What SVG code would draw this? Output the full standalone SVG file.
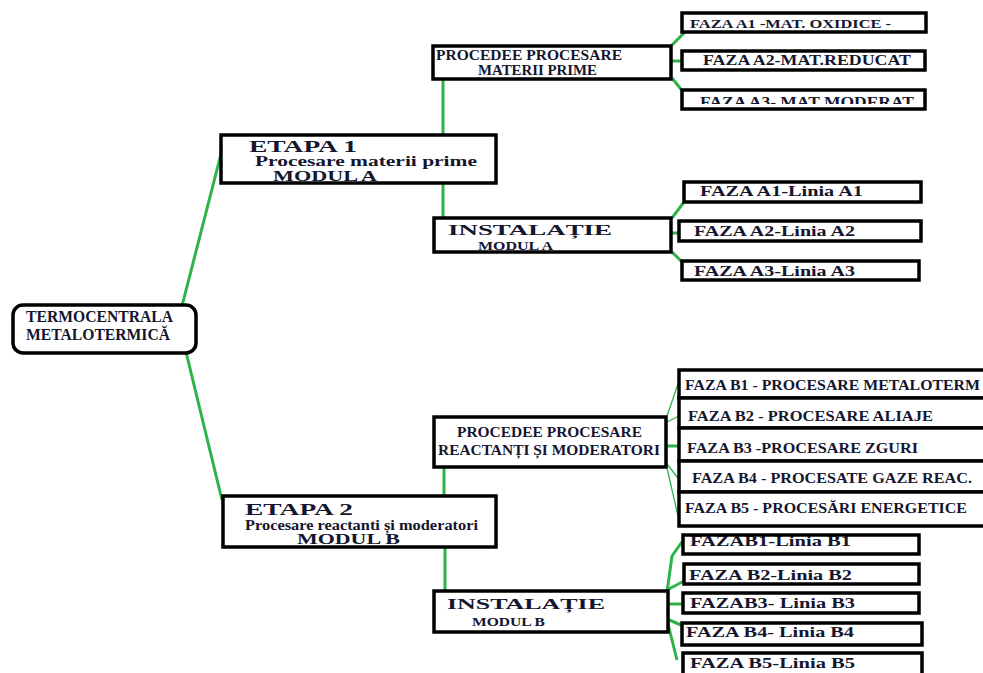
<svg xmlns="http://www.w3.org/2000/svg" width="983" height="673" viewBox="0 0 983 673">
<style>
text{font-family:"Liberation Serif","Times New Roman",serif;font-weight:bold;fill:#15152e}
.thick{fill:#fff;stroke:#000;stroke-width:3.5}
.g{stroke:#2eb34a;stroke-width:3;fill:none}
.gt{stroke:#2eb34a;stroke-width:1.3;fill:none}
</style>
<defs>
<clipPath id="cA3"><rect x="680" y="88" width="250" height="16"/></clipPath>
</defs>
<rect width="983" height="673" fill="#fff"/>
<g id="connectors">
<line class="g" x1="182" y1="306" x2="221" y2="154"/>
<line class="g" x1="186" y1="352" x2="222" y2="500"/>
<line class="g" x1="443" y1="79" x2="443" y2="135"/>
<line class="g" x1="443" y1="183" x2="443" y2="218"/>
<line class="g" x1="444" y1="467" x2="444" y2="496"/>
<line class="g" x1="445" y1="547" x2="445" y2="592"/>
<path class="g" d="M672 45 L686 31"/>
<path class="g" d="M672 61 L683 61"/>
<path class="g" d="M672 78 L684 93"/>
<path class="g" d="M672 218 L684 202"/>
<path class="g" d="M672 233 L680 233"/>
<path class="g" d="M672 252 L683 263"/>
<path class="gt" d="M667 416 L679 381"/>
<path class="gt" d="M667 422 L681 415"/>
<path class="g" d="M667 446 L686 446"/>
<path class="gt" d="M667 464 L681 482"/>
<path class="gt" d="M667 468 L678 516"/>
<path class="g" d="M667 592 L672 556 L684 539"/>
<path class="g" d="M667 590 L684 581"/>
<path class="g" d="M667 604 L685 604"/>
<path class="g" d="M667 619 L681 625"/>
<path class="g" d="M667 620 L677 660"/>
</g>
<g id="root">
<rect x="13" y="305" width="183" height="48" rx="10" fill="#fff" stroke="#000" stroke-width="3.5"/>
<text x="26" y="322" font-size="16" textLength="147" lengthAdjust="spacingAndGlyphs">TERMOCENTRALA</text>
<text x="26" y="340" font-size="16" textLength="144" lengthAdjust="spacingAndGlyphs">METALOTERMICĂ</text>
</g>
<g id="etapa1">
<rect class="thick" x="221" y="135" width="275" height="48"/>
<text x="249" y="152" font-size="16" textLength="108" lengthAdjust="spacingAndGlyphs">ETAPA 1</text>
<text x="255" y="166" font-size="14" textLength="222" lengthAdjust="spacingAndGlyphs">Procesare materii prime</text>
<text x="273" y="181" font-size="14" textLength="104" lengthAdjust="spacingAndGlyphs">MODUL A</text>
</g>
<g id="procedeeA">
<rect class="thick" x="433" y="46" width="238" height="33"/>
<text x="436" y="60" font-size="14" textLength="186" lengthAdjust="spacingAndGlyphs">PROCEDEE PROCESARE</text>
<text x="478" y="75" font-size="14" textLength="119" lengthAdjust="spacingAndGlyphs">MATERII PRIME</text>
</g>
<g id="fazaA1mat">
<rect class="thick" x="682" y="13" width="244" height="19"/>
<text x="690" y="28" font-size="13" textLength="201" lengthAdjust="spacingAndGlyphs">FAZA A1 -MAT. OXIDICE -</text>
</g>
<g id="fazaA2mat">
<rect class="thick" x="682" y="51" width="243" height="19"/>
<text x="703" y="65" font-size="14" textLength="208" lengthAdjust="spacingAndGlyphs">FAZA  A2-MAT.REDUCAT</text>
</g>
<g id="fazaA3mat">
<rect class="thick" x="682" y="90" width="243" height="19"/>
<text x="700" y="107" font-size="14" textLength="214" lengthAdjust="spacingAndGlyphs" clip-path="url(#cA3)">FAZA  A3- MAT MODERAT</text>
</g>
<g id="instalatieA">
<rect class="thick" x="434" y="218" width="237" height="34"/>
<text x="448" y="235" font-size="15" textLength="164" lengthAdjust="spacingAndGlyphs">INSTALAȚIE</text>
<text x="478" y="250" font-size="12" textLength="75" lengthAdjust="spacingAndGlyphs">MODUL A</text>
</g>
<g id="fazaA1linia">
<rect class="thick" x="684" y="182" width="237" height="20"/>
<text x="700" y="196" font-size="14" textLength="163" lengthAdjust="spacingAndGlyphs">FAZA A1-Linia A1</text>
</g>
<g id="fazaA2linia">
<rect class="thick" x="679" y="221" width="242" height="20"/>
<text x="694" y="236" font-size="14" textLength="161" lengthAdjust="spacingAndGlyphs">FAZA A2-Linia A2</text>
</g>
<g id="fazaA3linia">
<rect class="thick" x="682" y="261" width="237" height="19"/>
<text x="694" y="276" font-size="14" textLength="161" lengthAdjust="spacingAndGlyphs">FAZA A3-Linia A3</text>
</g>
<g id="etapa2">
<rect class="thick" x="223" y="496" width="273" height="51"/>
<text x="245" y="515" font-size="16" textLength="108" lengthAdjust="spacingAndGlyphs">ETAPA 2</text>
<text x="245" y="530" font-size="14" textLength="233" lengthAdjust="spacingAndGlyphs">Procesare reactanti și  moderatori</text>
<text x="297" y="544" font-size="14" textLength="103" lengthAdjust="spacingAndGlyphs">MODUL B</text>
</g>
<g id="procedeeB">
<rect class="thick" x="434" y="417" width="232" height="50"/>
<text x="457" y="437" font-size="14" textLength="185" lengthAdjust="spacingAndGlyphs">PROCEDEE  PROCESARE</text>
<text x="438" y="455" font-size="14" textLength="222" lengthAdjust="spacingAndGlyphs">REACTANȚI ȘI MODERATORI</text>
</g>
<g id="fazaB1">
<rect class="thick" x="679" y="370" width="306" height="28"/>
<text x="685" y="390" font-size="15" textLength="295" lengthAdjust="spacingAndGlyphs">FAZA B1 - PROCESARE METALOTERM</text>
</g>
<g id="fazaB2">
<rect class="thick" x="679" y="398" width="306" height="30"/>
<text x="688" y="421" font-size="15" textLength="245" lengthAdjust="spacingAndGlyphs">FAZA B2 - PROCESARE  ALIAJE</text>
</g>
<g id="fazaB3">
<rect class="thick" x="679" y="428" width="306" height="33"/>
<text x="687" y="453" font-size="15" textLength="231" lengthAdjust="spacingAndGlyphs">FAZA B3 -PROCESARE ZGURI</text>
</g>
<g id="fazaB4">
<rect class="thick" x="679" y="461" width="306" height="31"/>
<text x="692" y="483" font-size="15" textLength="280" lengthAdjust="spacingAndGlyphs">FAZA B4 - PROCESATE GAZE  REAC.</text>
</g>
<g id="fazaB5">
<rect class="thick" x="679" y="492" width="306" height="34"/>
<text x="685" y="513" font-size="15" textLength="282" lengthAdjust="spacingAndGlyphs">FAZA B5 - PROCESĂRI  ENERGETICE</text>
</g>
<g id="instalatieB">
<rect class="thick" x="434" y="591" width="234" height="41"/>
<text x="447" y="609" font-size="15" textLength="158" lengthAdjust="spacingAndGlyphs">INSTALAȚIE</text>
<text x="472" y="626" font-size="13" textLength="73" lengthAdjust="spacingAndGlyphs">MODUL B</text>
</g>
<g id="fazaB1linia">
<text x="690" y="546" font-size="14" textLength="161" lengthAdjust="spacingAndGlyphs">FAZAB1-Linia B1</text>
<rect x="683" y="535" width="236" height="19" fill="none" stroke="#000" stroke-width="3.5"/>
</g>
<g id="fazaB2linia">
<rect class="thick" x="684" y="564" width="235" height="20"/>
<text x="689" y="580" font-size="14" textLength="163" lengthAdjust="spacingAndGlyphs">FAZA B2-Linia B2</text>
</g>
<g id="fazaB3linia">
<rect class="thick" x="683" y="593" width="236" height="20"/>
<text x="690" y="608" font-size="14" textLength="165" lengthAdjust="spacingAndGlyphs">FAZAB3- Linia B3</text>
</g>
<g id="fazaB4linia">
<rect class="thick" x="682" y="623" width="240" height="22"/>
<text x="686" y="637" font-size="14" textLength="168" lengthAdjust="spacingAndGlyphs">FAZA B4- Linia B4</text>
</g>
<g id="fazaB5linia">
<rect class="thick" x="683" y="653" width="239" height="25"/>
<text x="690" y="668" font-size="14" textLength="165" lengthAdjust="spacingAndGlyphs">FAZA B5-Linia B5</text>
</g>
</svg>
